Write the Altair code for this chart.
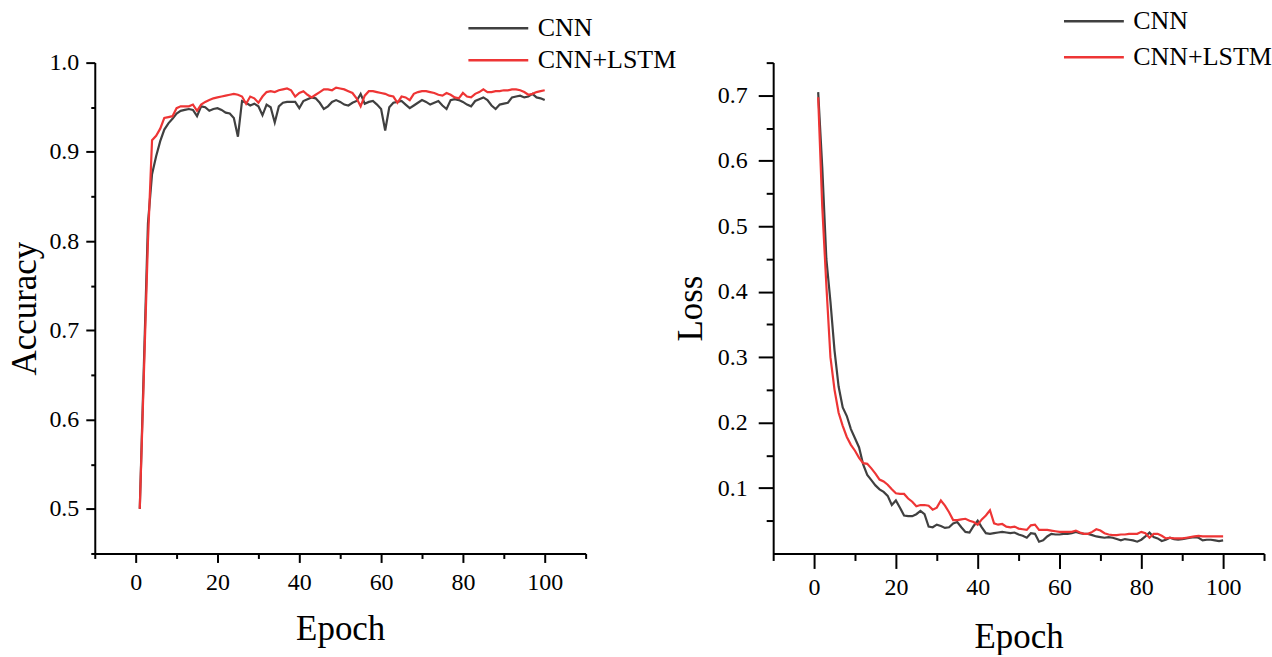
import altair as alt
import pandas as pd

epochs = list(range(1, 101))

acc_cnn = [
    0.500, 0.660, 0.820, 0.875, 0.895, 0.912, 0.925, 0.932, 0.937, 0.943,
    0.946, 0.947, 0.948, 0.947, 0.940, 0.951, 0.950, 0.946, 0.948, 0.949,
    0.947, 0.944, 0.943, 0.938, 0.917, 0.957, 0.955, 0.952, 0.954, 0.951,
    0.941, 0.953, 0.950, 0.933, 0.951, 0.955, 0.956, 0.956, 0.956, 0.949,
    0.957, 0.959, 0.961, 0.960, 0.955, 0.948, 0.951, 0.956, 0.958, 0.956,
    0.953, 0.952, 0.955, 0.957, 0.965, 0.954, 0.956, 0.957, 0.953, 0.948,
    0.924, 0.950, 0.955, 0.956, 0.957, 0.953, 0.949, 0.952, 0.955, 0.958,
    0.956, 0.953, 0.955, 0.957, 0.952, 0.948, 0.958, 0.959, 0.958, 0.956,
    0.953, 0.951, 0.957, 0.959, 0.961, 0.958, 0.952, 0.948, 0.953, 0.954,
    0.955, 0.961, 0.962, 0.963, 0.961, 0.962, 0.965, 0.961, 0.960, 0.958,
]

acc_lstm = [
    0.500, 0.650, 0.800, 0.913, 0.918, 0.926, 0.938, 0.939, 0.940, 0.949,
    0.951, 0.951, 0.951, 0.953, 0.946, 0.953, 0.956, 0.958, 0.960, 0.961,
    0.962, 0.963, 0.964, 0.965, 0.964, 0.962, 0.954, 0.962, 0.960, 0.955,
    0.962, 0.967, 0.968, 0.967, 0.969, 0.970, 0.971, 0.969, 0.962, 0.966,
    0.968, 0.964, 0.961, 0.964, 0.967, 0.970, 0.970, 0.969, 0.972, 0.971,
    0.970, 0.968, 0.966, 0.960, 0.951, 0.963, 0.968, 0.968, 0.967, 0.966,
    0.965, 0.963, 0.962, 0.955, 0.962, 0.961, 0.958, 0.965, 0.967, 0.968,
    0.968, 0.967, 0.966, 0.964, 0.963, 0.966, 0.964, 0.961, 0.960, 0.966,
    0.962, 0.961, 0.965, 0.967, 0.970, 0.967, 0.967, 0.968, 0.968, 0.969,
    0.969, 0.970, 0.970, 0.969, 0.967, 0.964, 0.965, 0.967, 0.968, 0.969,
]

loss_cnn = [
    0.705, 0.590, 0.450, 0.385, 0.310, 0.255, 0.223, 0.210, 0.190, 0.176,
    0.162, 0.136, 0.120, 0.112, 0.104, 0.098, 0.094, 0.088, 0.074, 0.081,
    0.070, 0.058, 0.057, 0.057, 0.060, 0.065, 0.060, 0.041, 0.040, 0.044,
    0.042, 0.039, 0.040, 0.046, 0.048, 0.040, 0.033, 0.032, 0.042, 0.050,
    0.040, 0.031, 0.030, 0.031, 0.032, 0.033, 0.032, 0.031, 0.032, 0.029,
    0.027, 0.024, 0.031, 0.030, 0.018, 0.020, 0.026, 0.030, 0.029, 0.029,
    0.030, 0.030, 0.031, 0.033, 0.031, 0.030, 0.030, 0.028, 0.026, 0.025,
    0.024, 0.025, 0.024, 0.022, 0.020, 0.022, 0.021, 0.020, 0.018, 0.021,
    0.026, 0.032, 0.025, 0.023, 0.019, 0.021, 0.024, 0.022, 0.021, 0.022,
    0.023, 0.024, 0.025, 0.024, 0.020, 0.021, 0.021, 0.020, 0.019, 0.020,
]

loss_lstm = [
    0.697, 0.530, 0.410, 0.300, 0.250, 0.215, 0.195, 0.178, 0.166, 0.157,
    0.146, 0.138, 0.137, 0.130, 0.122, 0.113, 0.110, 0.105, 0.098, 0.092,
    0.091, 0.091, 0.084, 0.079, 0.072, 0.074, 0.074, 0.073, 0.067, 0.070,
    0.081, 0.073, 0.063, 0.051, 0.051, 0.052, 0.053, 0.050, 0.048, 0.044,
    0.052, 0.058, 0.066, 0.046, 0.044, 0.045, 0.041, 0.040, 0.041, 0.038,
    0.037, 0.036, 0.043, 0.044, 0.036, 0.036, 0.036, 0.035, 0.034, 0.033,
    0.033, 0.033, 0.033, 0.035, 0.032, 0.030, 0.030, 0.033, 0.037, 0.035,
    0.031, 0.029, 0.028, 0.028, 0.029, 0.029, 0.030, 0.030, 0.030, 0.033,
    0.031, 0.024, 0.030, 0.030, 0.027, 0.023, 0.024, 0.023, 0.023, 0.023,
    0.024, 0.025, 0.026, 0.027, 0.026, 0.026, 0.026, 0.026, 0.026, 0.026,
]

series_names = ["CNN", "CNN+LSTM"]
series_colors = ["#404040", "#ee3535"]

acc_df = pd.DataFrame({
    "Epoch": epochs * 2,
    "Value": acc_cnn + acc_lstm,
    "Model": [series_names[0]] * 100 + [series_names[1]] * 100,
})
loss_df = pd.DataFrame({
    "Epoch": epochs * 2,
    "Value": loss_cnn + loss_lstm,
    "Model": [series_names[0]] * 100 + [series_names[1]] * 100,
})

FONT = "Liberation Serif"
x_vals = list(range(-10, 111, 10))
acc_vals = [round(0.45 + 0.05 * i, 2) for i in range(12)]
loss_vals = [round(0.05 * i, 2) for i in range(1, 16)]

common_axis = dict(
    grid=False, domainColor="black", domainWidth=2, tickColor="black", tickWidth=2,
    labelFont=FONT, labelFontSize=24, labelColor="black",
    titleFont=FONT, titleFontSize=35, titleFontWeight="normal", titleColor="black",
)


def x_axis(major, minor, pad, tpad):
    return alt.Axis(
        values=x_vals,
        labelExpr="datum.value % 20 == 0 ? datum.label : ''",
        tickSize={"condition": {"test": "datum.value % 20 == 0", "value": major}, "value": minor},
        labelPadding=pad,
        titlePadding=tpad,
        **common_axis,
    )


def y_axis(vals, major, minor, pad, tpad):
    return alt.Axis(
        values=vals,
        labelExpr="round(datum.value * 20) % 2 == 0 ? format(datum.value, '.1f') : ''",
        tickSize={"condition": {"test": "round(datum.value * 20) % 2 == 0", "value": major}, "value": minor},
        labelPadding=pad,
        titlePadding=tpad,
        **common_axis,
    )


def panel(df, ytitle, ydomain, yvals, ticks, pads, legend_pos, row_pad):
    xmaj, xmin, ymaj, ymin = ticks
    xlp, xtp, ylp, ytp = pads
    lx, ly = legend_pos
    return alt.Chart(df).mark_line(strokeWidth=2.2).encode(
        x=alt.X("Epoch:Q", scale=alt.Scale(domain=[-10, 110], nice=False, zero=False),
                axis=x_axis(xmaj, xmin, xlp, xtp), title="Epoch"),
        y=alt.Y("Value:Q", scale=alt.Scale(domain=ydomain, nice=False, zero=False),
                axis=y_axis(yvals, ymaj, ymin, ylp, ytp), title=ytitle),
        color=alt.Color(
            "Model:N",
            scale=alt.Scale(domain=series_names, range=series_colors),
            legend=alt.Legend(
                title=None, orient="none", legendX=lx, legendY=ly,
                symbolType="M-3,0H1", symbolSize=900, symbolStrokeWidth=2.5,
                symbolFillColor="transparent",
                labelFont=FONT, labelFontSize=26, labelColor="black",
                labelOffset=8, rowPadding=row_pad,
            ),
        ),
    ).properties(width=492, height=492)


left = panel(acc_df, "Accuracy", [0.45, 1.0], acc_vals,
             (9, 5, 9, 4), (8, 17, 7, 6), (403, -51), 2)
right = panel(loss_df, "Loss", [0.0, 0.75], loss_vals,
              (15, 7, 15, 7), (7, 20, 11, 9), (320, -58), 6)

chart = alt.hconcat(left, right, spacing=188, bounds="flush").resolve_scale(
    color="independent"
).properties(
    padding={"left": 8, "top": 4, "right": 0, "bottom": 0}
).configure(background="white").configure_view(stroke=None)

chart.save("out.html", embed_options={"renderer": "svg", "actions": False})
